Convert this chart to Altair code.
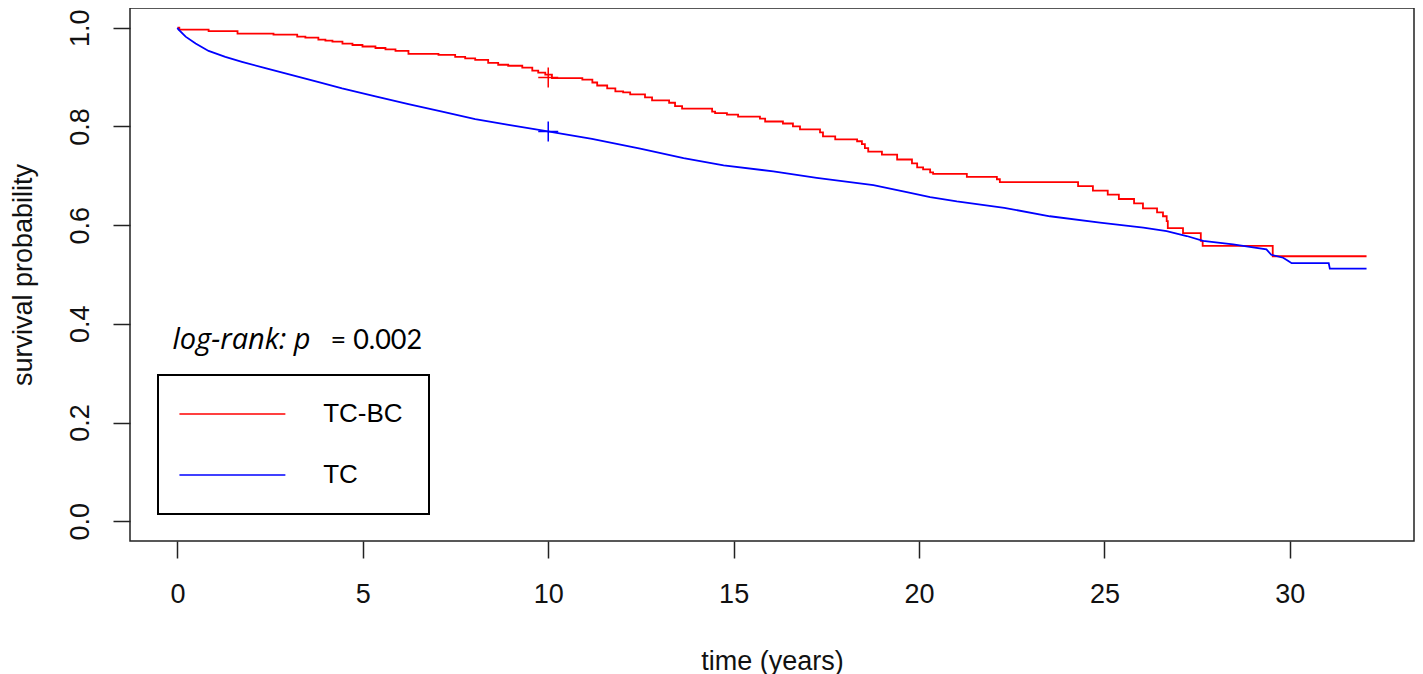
import altair as alt
import pandas as pd

groups = ["TC-BC", "TC"]
colors = ["#ff0000", "#0000ff"]

red_t = [0, 0.05, 0.84, 1.62, 2.59, 3.23, 3.45, 3.80, 3.99, 4.18, 4.45, 4.72, 4.99, 5.34, 5.61,
         5.88, 6.23, 7.04, 7.49, 7.76, 8.03, 8.38, 8.65, 8.92, 9.30, 9.57, 9.73, 9.92, 10.10, 10.92,
         11.19, 11.32, 11.59, 11.81, 12.02, 12.21, 12.61, 12.80, 13.26, 13.42, 13.61, 14.42, 14.50,
         14.82, 15.12, 15.71, 15.85, 16.33, 16.60, 16.79, 17.33, 17.41, 17.74, 18.33, 18.46, 18.54,
         18.63, 19.00, 19.41, 19.81, 19.95, 20.11, 20.30, 20.38, 21.29, 22.10, 22.18, 24.29, 24.69,
         25.09, 25.39, 25.80, 26.04, 26.42, 26.58, 26.68, 26.71, 27.12, 27.60, 27.65, 29.54, 32.07]
red_s = [1.000, 0.996, 0.993, 0.988, 0.986, 0.982, 0.980, 0.976, 0.974, 0.972, 0.968, 0.965, 0.962,
         0.959, 0.956, 0.953, 0.947, 0.945, 0.941, 0.938, 0.935, 0.929, 0.925, 0.923, 0.919, 0.913,
         0.909, 0.905, 0.898, 0.895, 0.889, 0.883, 0.877, 0.871, 0.869, 0.865, 0.859, 0.853, 0.848,
         0.841, 0.836, 0.830, 0.827, 0.824, 0.820, 0.816, 0.810, 0.806, 0.800, 0.794, 0.788, 0.780,
         0.774, 0.770, 0.764, 0.756, 0.749, 0.743, 0.733, 0.725, 0.717, 0.713, 0.707, 0.704, 0.698,
         0.693, 0.687, 0.679, 0.670, 0.662, 0.653, 0.644, 0.634, 0.626, 0.618, 0.608, 0.594, 0.584,
         0.568, 0.558, 0.537, 0.537]

blue_t = [0, 0.02, 0.22, 0.49, 0.84, 1.29, 1.74, 2.37, 3.09, 3.81, 4.44, 5.34, 6.23, 7.14, 8.03,
          8.93, 9.83, 11.18, 12.48, 13.65, 14.73, 16.07, 17.24, 18.77, 19.67, 20.30, 21.02, 22.30,
          23.53, 24.88, 26.05, 26.68, 27.22, 27.66, 28.47, 29.37, 29.50, 29.82, 29.95, 30.05, 31.05,
          31.08, 32.07]
blue_s = [1.000, 0.997, 0.982, 0.968, 0.953, 0.941, 0.931, 0.918, 0.904, 0.890, 0.877, 0.861, 0.845,
          0.830, 0.815, 0.803, 0.792, 0.775, 0.755, 0.736, 0.721, 0.709, 0.696, 0.681, 0.667, 0.657,
          0.648, 0.635, 0.618, 0.605, 0.595, 0.588, 0.578, 0.568, 0.561, 0.551, 0.540, 0.534, 0.528,
          0.523, 0.523, 0.512, 0.512]

cens_t = [10.0, 10.0]
cens_s = [0.899, 0.790]
cens_g = ["TC-BC", "TC"]

x_ticks = [0, 5, 10, 15, 20, 25, 30]
y_ticks = [0.0, 0.2, 0.4, 0.6, 0.8, 1.0]

ann_t = [-0.135, 6.60]
ann_s = [0.349, 0.349]
ann_text = ["log-rank: p", "= 0.002"]

red_df = pd.DataFrame({"t": red_t, "s": red_s, "group": "TC-BC", "order": range(len(red_t))})
blue_df = pd.DataFrame({"t": blue_t, "s": blue_s, "group": "TC", "order": range(len(blue_t))})
cens_df = pd.DataFrame({"t": cens_t, "s": cens_s, "group": cens_g})
ann1 = pd.DataFrame({"t": [ann_t[0]], "s": [ann_s[0]], "label": [ann_text[0]]})
ann2 = pd.DataFrame({"t": [ann_t[1]], "s": [ann_s[1]], "label": [ann_text[1]]})

xs = alt.Scale(domain=[-1.28, 33.35], nice=False, zero=False)
ys = alt.Scale(domain=[-0.04, 1.04], nice=False, zero=False)

x_enc = alt.X("t:Q", scale=xs, axis=alt.Axis(
    values=x_ticks, labelAngle=0, labelBaseline="top", labelPadding=23,
    labelFlush=False, labelOverlap=False, title="time (years)",
    titleY=128, titleBaseline="alphabetic"))
y_enc = alt.Y("s:Q", scale=ys, axis=alt.Axis(
    values=y_ticks, format=".1f", labelAngle=270, labelAlign="center",
    labelBaseline="alphabetic", labelPadding=25, labelFlush=False, labelOverlap=False,
    title="survival probability", titleAngle=270, titleX=-99, titleBaseline="alphabetic"))

color_enc = alt.Color("group:N", scale=alt.Scale(domain=groups, range=colors),
                      legend=alt.Legend(
                          title=None, orient="none", legendX=28, legendY=367,
                          direction="vertical", symbolType="M-5,0H5", symbolSize=449,
                          symbolStrokeWidth=1.5, symbolOffset=35.4, labelOffset=77.8,
                          labelFont="Liberation Sans", labelFontSize=26, labelColor="black",
                          rowPadding=35, padding=26, strokeColor="black"))

red_line = alt.Chart(red_df).mark_line(interpolate="step-after", strokeWidth=1.8).encode(
    x=x_enc, y=y_enc, color=color_enc, order="order:Q")
blue_line = alt.Chart(blue_df).mark_line(interpolate="linear", strokeWidth=1.8).encode(
    x=x_enc, y=y_enc, color=color_enc, order="order:Q")
cens = alt.Chart(cens_df).mark_point(shape="M-1,0H1M0,-1V1", size=400, filled=False,
                                     strokeWidth=1.5, opacity=1).encode(
    x=x_enc, y=y_enc, color=color_enc)
txt1 = alt.Chart(ann1).mark_text(font="Open Sans", fontSize=29, fontStyle="italic", align="left",
                                 baseline="alphabetic", color="black").encode(
    x=x_enc, y=y_enc, text="label:N")
txt2 = alt.Chart(ann2).mark_text(font="Lato", fontSize=27, align="right",
                                 baseline="alphabetic", color="black").encode(
    x=x_enc, y=y_enc, text="label:N")

chart = alt.layer(red_line, blue_line, cens, txt1, txt2).properties(
    width=1284, height=533,
    autosize=alt.AutoSizeParams(type="none"),
    padding={"left": 122, "top": 0, "right": 1, "bottom": 133}
).configure_view(stroke="#222", strokeWidth=1.5).configure_axis(
    labelFont="Liberation Sans", labelFontSize=27, labelColor="#111",
    titleFont="Liberation Sans", titleFontSize=27, titleFontWeight="normal", titleColor="#111",
    grid=False, domain=False, tickColor="#222", tickWidth=1.5, tickSize=17
).configure_legend(strokeWidth=2)

chart.save("out.html", embed_options={"renderer": "svg", "actions": False})
